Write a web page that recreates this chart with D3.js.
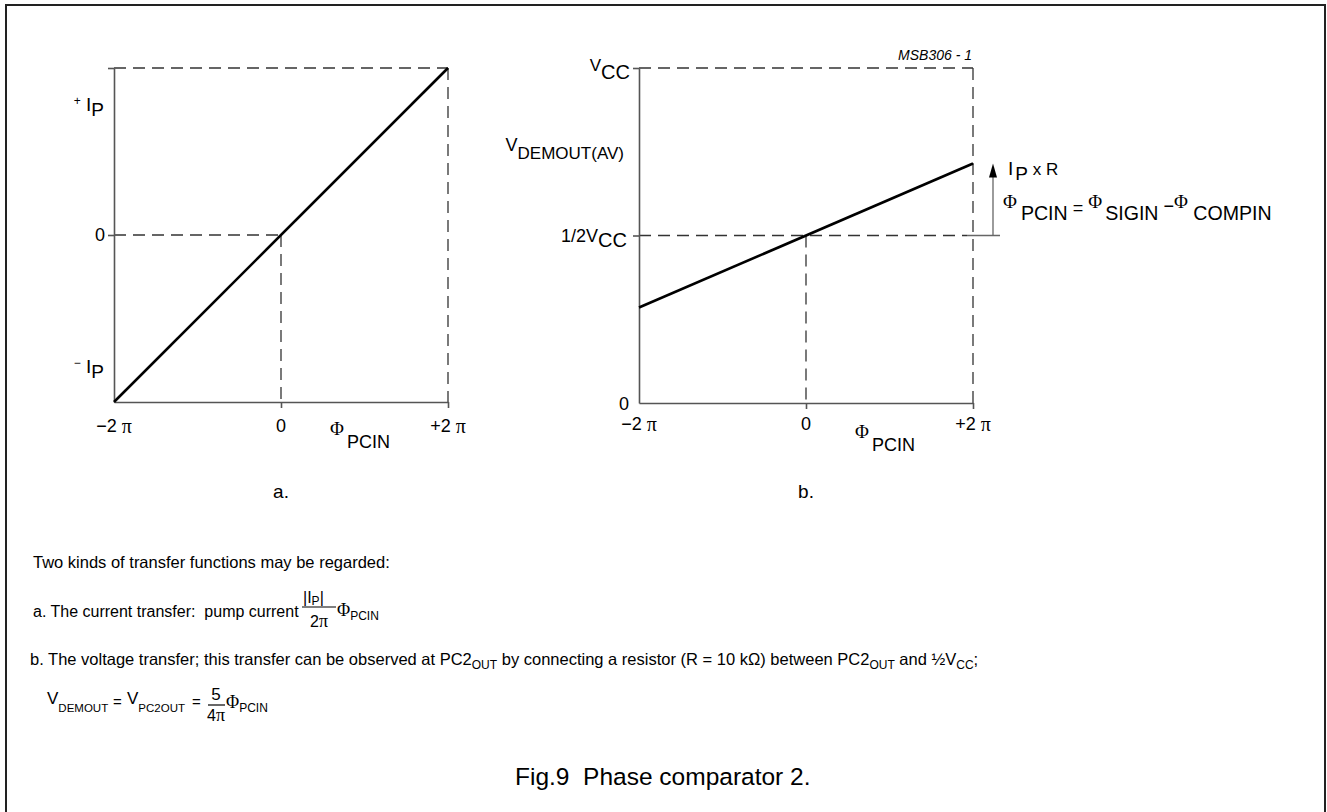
<!DOCTYPE html>
<html>
<head>
<meta charset="utf-8">
<script src="https://cdn.jsdelivr.net/npm/d3@7"></script>
<style>
  body { margin: 0; background: #fff; }
  svg text { white-space: pre; }
</style>
</head>
<body>
<div id="chart"></div>
<script>
// phase in units of pi, values normalised (Ip = 1, Vcc = 1)
const phaseTicks = [-2, 0, 2];
const phaseTickLabels = ["\u22122", "0", "+2"];
const currentLine = [[-2, -1], [2, 1]];      // a. pump current vs phase
const voltageLine = [[-2, 0.285], [2, 0.715]]; // b. Vdemout(av) vs phase
const currentTicks = [1, 0];
const voltageTicks = [1, 0.5];

const width = 1327, height = 812;
const SANS = "'Liberation Sans', Arial, sans-serif";
const SERIF = "'Liberation Serif', 'Times New Roman', serif";
const axisColor = "#555";

const svg = d3.select("#chart")
  .append("svg")
  .attr("width", width)
  .attr("height", height)
  .attr("viewBox", [0, 0, width, height]);

// outer frame
svg.append("rect")
  .attr("x", 6).attr("y", 5)
  .attr("width", 1319).attr("height", 820)
  .attr("fill", "none")
  .attr("stroke", "#222")
  .attr("stroke-width", 2);

// text with sub/superscript pieces
function rich(sel, x, y, parts, anchor = "start", size = 16) {
  const t = sel.append("text")
    .attr("x", x).attr("y", y)
    .attr("text-anchor", anchor)
    .style("font-family", SANS)
    .style("font-size", size + "px")
    .attr("fill", "#000");
  let cur = 0;
  parts.forEach(p => {
    const off = p.off || 0;
    const ts = t.append("tspan").attr("dy", off - cur).text(p.t);
    cur = off;
    if (p.size) ts.style("font-size", p.size + "px");
    if (p.font) ts.style("font-family", p.font);
    if (p.dx) ts.attr("dx", p.dx);
    if (p.italic) ts.style("font-style", "italic");
  });
  return t;
}

function dashed(sel, x1, y1, x2, y2) {
  sel.append("line")
    .attr("x1", x1).attr("y1", y1).attr("x2", x2).attr("y2", y2)
    .attr("stroke", "#333")
    .attr("stroke-width", 1.3)
    .attr("stroke-dasharray", "12,7");
}

function drawPanel(opts) {
  const { x, y, data, yTicks, midY } = opts;
  const g = svg.append("g");

  // dashed guide lines
  dashed(g, x(-2), y.range()[1], x(2), y.range()[1]);
  dashed(g, x(2), y.range()[1], x(2), y.range()[0]);
  dashed(g, x(-2), y(midY), opts.midEnd, y(midY));
  dashed(g, x(0), y(midY), x(0), y.range()[0]);

  // axes
  g.append("g")
    .attr("transform", `translate(${x(-2)},0)`)
    .call(d3.axisLeft(y).tickValues(yTicks).tickFormat("").tickSize(6).tickSizeOuter(0))
    .call(a => a.selectAll("path,line").attr("stroke", axisColor).attr("stroke-width", 1.6));
  g.append("g")
    .attr("transform", `translate(0,${y.range()[0]})`)
    .call(d3.axisBottom(x).tickValues([0, 2]).tickFormat("").tickSize(6).tickSizeOuter(0))
    .call(a => a.selectAll("path,line").attr("stroke", axisColor).attr("stroke-width", 1.6));

  // transfer line
  g.append("path")
    .datum(data)
    .attr("d", d3.line().x(d => x(d[0])).y(d => y(d[1])))
    .attr("fill", "none")
    .attr("stroke", "#000")
    .attr("stroke-width", 2.6);

  // x tick labels
  phaseTicks.forEach((v, i) => {
    const parts = [{ t: phaseTickLabels[i] }];
    if (v !== 0) parts.push({ t: " \u03c0", font: SERIF, size: 20, off: 1 });
    rich(g, x(v), y.range()[0] + opts.tickLabelDy, parts, "middle", 18);
  });

  // x title
  rich(g, x(0) + 49, y.range()[0] + opts.titleDy, [
    { t: "\u03a6", font: SERIF, size: 19, off: -13 },
    { t: "PCIN", off: 0, dx: 3 }
  ], "start", 18);

  // panel letter
  rich(g, x(0), 498, [{ t: opts.letter }], "middle", 19);
  return g;
}

// ---- panel a ----
const xA = d3.scaleLinear().domain([-2, 2]).range([114, 448]);
const yA = d3.scaleLinear().domain([-1, 1]).range([402, 68]);
const gA = drawPanel({ x: xA, y: yA, data: currentLine, yTicks: currentTicks, midY: 0,
  midEnd: xA(0), tickLabelDy: 30, titleDy: 46, letter: "a." });

rich(gA, xA(-2) - 10, yA(0.77) + 5, [
  { t: "+", size: 12, off: -6 },
  { t: " I", off: 0 },
  { t: "P", off: 5 }
], "end", 19);
rich(gA, xA(-2) - 9, yA(0) + 6, [{ t: "0" }], "end", 18);
rich(gA, xA(-2) - 10, yA(-0.81) + 3, [
  { t: "\u2212", size: 12, off: -6 },
  { t: " I", off: 0 },
  { t: "P", off: 5 }
], "end", 19);

// ---- panel b ----
const xB = d3.scaleLinear().domain([-2, 2]).range([639, 973]);
const yB = d3.scaleLinear().domain([0, 1]).range([403, 68]);
const gB = drawPanel({ x: xB, y: yB, data: voltageLine, yTicks: voltageTicks, midY: 0.5,
  midEnd: xB(2) - 6, tickLabelDy: 27, titleDy: 48, letter: "b." });

rich(gB, xB(-2) - 9, yB(1) + 11, [
  { t: "V", off: -8 },
  { t: "CC", off: 0, size: 20 }
], "end", 17);
rich(gB, xB(-2) - 15, yB(0.755) + 9, [
  { t: "V", off: -8, size: 18 },
  { t: "DEMOUT(AV)", off: 0 }
], "end", 17);
rich(gB, xB(-2) - 12, yB(0.5) + 11, [
  { t: "1/2V", off: -5 },
  { t: "CC", off: 0, size: 20 }
], "end", 18);
rich(gB, xB(-2) - 10, yB(0) + 7, [{ t: "0" }], "end", 18);

// drawing code
rich(gB, xB(2) - 1, 60, [{ t: "MSB306 - 1", italic: true }], "end", 14);

// Ip x R annotation
const arrowX = xB(2) + 20;
const topY = yB(voltageLine[1][1]);
gB.append("line")
  .attr("x1", xB(2) - 6).attr("x2", xB(2) + 27)
  .attr("y1", yB(0.5)).attr("y2", yB(0.5))
  .attr("stroke", "#666").attr("stroke-width", 1.3);
gB.append("line")
  .attr("x1", arrowX).attr("x2", arrowX)
  .attr("y1", yB(0.5)).attr("y2", topY + 10)
  .attr("stroke", "#666").attr("stroke-width", 1.3);
gB.append("path")
  .attr("d", d3.line()([[arrowX - 4, topY + 14], [arrowX, topY], [arrowX + 4, topY + 14]]) + "Z")
  .attr("fill", "#000");
rich(gB, arrowX + 15, 175, [
  { t: "I", off: 0 },
  { t: "P", off: 5, dx: 2 },
  { t: " x R", off: 0, size: 17 }
], "start", 19);
rich(gB, arrowX + 10, 220, [
  { t: "\u03a6", font: SERIF, size: 19, off: -12 },
  { t: "PCIN", off: 0, dx: 4 },
  { t: " = ", off: -6, size: 18 },
  { t: "\u03a6", font: SERIF, size: 19, off: -12 },
  { t: "SIGIN", off: 0, dx: 3 },
  { t: " \u2212", off: -8, size: 18 },
  { t: "\u03a6", font: SERIF, size: 19, off: -12 },
  { t: " COMPIN", off: 0 }
], "start", 19.6);

// ---- explanation text ----
const txt = svg.append("g");
rich(txt, 33, 568, [{ t: "Two kinds of transfer functions may be regarded:" }], "start", 16.5);
rich(txt, 33, 617, [{ t: "a. The current transfer:  pump current" }], "start", 16);
// |Ip| / 2pi fraction
rich(txt, 303, 603, [{ t: "|I" }, { t: "P", size: 12, off: 2 }, { t: "|", off: 0 }], "start", 16);
txt.append("line").attr("x1", 302).attr("x2", 336).attr("y1", 607).attr("y2", 607)
  .attr("stroke", "#000").attr("stroke-width", 1.2);
rich(txt, 319, 627, [{ t: "2" }, { t: "\u03c0", font: SERIF, size: 18 }], "middle", 16);
rich(txt, 337, 616, [{ t: "\u03a6", font: SERIF, size: 18 }, { t: "PCIN", size: 12, off: 4 }], "start", 16);

rich(txt, 30, 665, [
  { t: "b. The voltage transfer; this transfer can be observed at PC2" },
  { t: "OUT", size: 12, off: 4 },
  { t: " by connecting a resistor (R = 10 k\u03a9) between PC2", off: 0 },
  { t: "OUT", size: 12, off: 4 },
  { t: " and \u00bdV", off: 0 },
  { t: "CC", size: 12, off: 4 },
  { t: ";", off: 0 }
], "start", 16.5);

// V_DEMOUT = V_PC2OUT = 5/(4pi) Phi_PCIN
rich(txt, 47, 704, [{ t: "V", size: 17 }, { t: "DEMOUT", size: 11.5, off: 8 }], "start", 16);
rich(txt, 113, 707, [{ t: "=" }], "start", 15);
rich(txt, 127, 704, [{ t: "V", size: 17 }, { t: "PC2OUT", size: 11.5, off: 8 }], "start", 16);
rich(txt, 192, 707, [{ t: "=" }], "start", 15);
rich(txt, 216, 700, [{ t: "5" }], "middle", 17);
txt.append("line").attr("x1", 208).attr("x2", 225).attr("y1", 705).attr("y2", 705)
  .attr("stroke", "#000").attr("stroke-width", 1.2);
rich(txt, 216, 721, [{ t: "4" }, { t: "\u03c0", font: SERIF, size: 18 }], "middle", 16);
rich(txt, 226, 708, [{ t: "\u03a6", font: SERIF, size: 18 }, { t: "PCIN", size: 12, off: 4 }], "start", 16);

// caption
rich(svg, 515, 785, [{ t: "Fig.9  Phase comparator 2." }], "start", 24.5);
</script>
</body>
</html>
